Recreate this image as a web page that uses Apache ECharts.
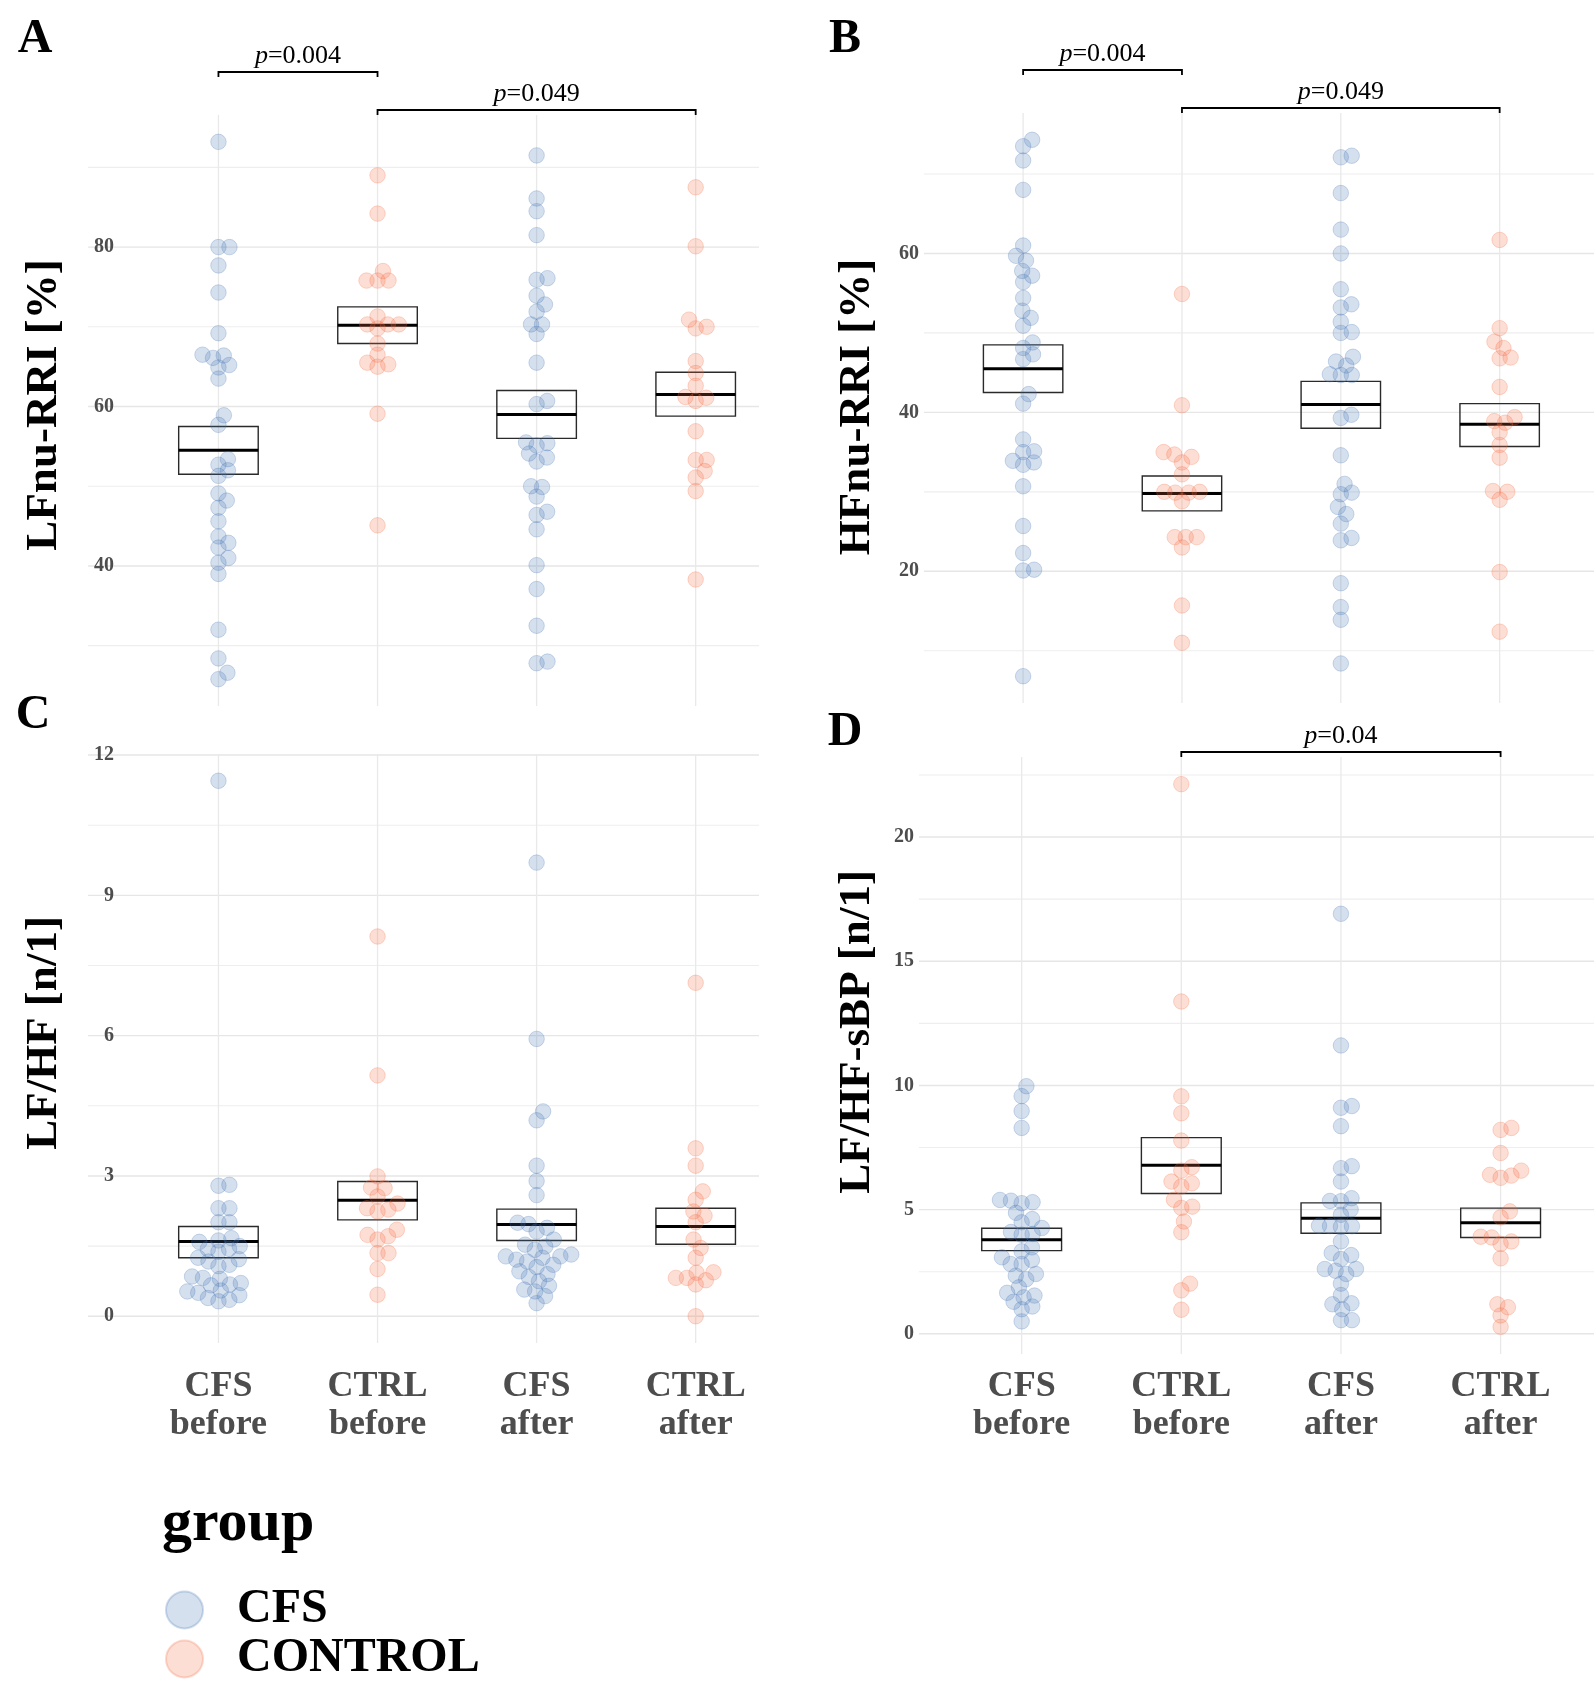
<!DOCTYPE html>
<html>
<head>
<meta charset="utf-8">
<script src="https://cdn.jsdelivr.net/npm/echarts@6/dist/echarts.min.js"></script>
<style>
html,body{margin:0;padding:0;background:#ffffff;}
#chart{width:1594px;height:1697px;}
</style>
</head>
<body>
<div id="chart"></div>
<script>
// ---------------- DATA ----------------
const categories = ['CFS\nbefore', 'CTRL\nbefore', 'CFS\nafter', 'CTRL\nafter'];
const categoryGroup = ['CFS', 'CONTROL', 'CFS', 'CONTROL'];
const groupNames = ['CFS', 'CONTROL'];
const panelLetters = ['A', 'B', 'C', 'D'];
const yTitles = ['LFnu-RRI [%]', 'HFnu-RRI [%]', 'LF/HF [n/1]', 'LF/HF-sBP [n/1]'];

// Panel A : LFnu-RRI [%]
const lfnuCfsBefore = [93.2, 80.0, 80.0, 77.7, 74.3, 69.2, 66.5, 66.4, 66.1, 65.2, 64.9, 63.5, 58.9, 57.7, 53.4, 52.7, 52.0, 51.3, 49.1, 48.2, 47.3, 45.6, 43.7, 42.9, 42.3, 41.0, 40.4, 39.0, 32.0, 28.4, 26.6, 25.8];
const lfnuCtrlBefore = [89.0, 84.2, 77.0, 75.8, 75.8, 75.8, 71.3, 70.3, 70.3, 70.3, 69.8, 67.9, 66.5, 65.5, 65.3, 65.0, 59.1, 45.1];
const lfnuCfsAfter = [91.5, 86.1, 84.5, 81.5, 76.1, 75.9, 73.9, 72.8, 71.9, 70.3, 70.3, 69.1, 65.5, 60.7, 60.3, 55.5, 55.4, 55.1, 54.1, 53.6, 53.1, 50.0, 49.9, 48.7, 46.8, 46.4, 44.6, 40.1, 37.1, 32.5, 28.0, 27.8];
const lfnuCtrlAfter = [87.5, 80.1, 70.9, 70.0, 69.8, 65.7, 64.2, 62.6, 61.2, 61.1, 60.7, 56.9, 53.3, 53.3, 51.9, 51.1, 49.4, 38.3];
const lfnuBox = [[51.5, 54.5, 57.5], [67.9, 70.2, 72.5], [56.0, 59.0, 62.0], [58.8, 61.5, 64.3]]; // lower, middle, upper
const lfnuTicks = [40, 60, 80];
const lfnuBrackets = [[2, 4, '0.049'], [1, 2, '0.004']];

// Panel B : HFnu-RRI [%]
const hfnuCfsBefore = [74.3, 73.5, 71.7, 68.0, 61.0, 59.7, 59.1, 57.8, 57.2, 56.4, 54.4, 52.8, 51.9, 50.9, 48.8, 48.1, 47.3, 46.7, 42.3, 41.1, 36.6, 35.1, 35.0, 33.9, 33.7, 33.4, 30.7, 25.7, 22.3, 20.2, 20.1, 6.8];
const hfnuCtrlBefore = [54.9, 40.9, 35.0, 34.7, 34.4, 33.7, 32.2, 30.0, 30.0, 29.9, 29.9, 28.8, 24.3, 24.3, 24.3, 23.0, 15.7, 11.0];
const hfnuCfsAfter = [72.3, 72.1, 67.6, 63.0, 60.0, 55.5, 53.6, 53.2, 51.4, 50.1, 50.0, 47.0, 46.4, 45.9, 44.8, 44.7, 44.7, 39.7, 39.3, 34.6, 31.0, 29.9, 29.7, 28.1, 27.2, 26.0, 24.2, 23.9, 18.5, 15.5, 13.9, 8.4];
const hfnuCtrlAfter = [61.7, 50.6, 48.9, 48.1, 46.9, 46.8, 43.2, 39.4, 38.9, 38.7, 37.5, 35.9, 34.3, 30.1, 30.0, 29.0, 19.9, 12.4];
const hfnuBox = [[42.5, 45.5, 48.5], [27.6, 29.8, 32.0], [38.0, 41.0, 43.9], [35.7, 38.5, 41.1]];
const hfnuTicks = [20, 40, 60];
const hfnuBrackets = [[2, 4, '0.049'], [1, 2, '0.004']];

// Panel C : LF/HF [n/1]
const lfhfCfsBefore = [11.45, 2.81, 2.79, 2.31, 2.31, 2.01, 2.01, 1.67, 1.62, 1.59, 1.50, 1.44, 1.44, 1.38, 1.25, 1.22, 1.17, 1.10, 1.07, 0.85, 0.82, 0.80, 0.71, 0.68, 0.66, 0.55, 0.53, 0.50, 0.45, 0.39, 0.35, 0.32];
const lfhfCtrlBefore = [8.12, 5.15, 2.99, 2.75, 2.74, 2.56, 2.41, 2.31, 2.28, 2.24, 1.85, 1.74, 1.71, 1.64, 1.35, 1.35, 1.01, 0.46];
const lfhfCfsAfter = [9.70, 5.93, 4.38, 4.19, 3.22, 2.89, 2.59, 2.00, 1.97, 1.89, 1.81, 1.64, 1.53, 1.49, 1.42, 1.32, 1.28, 1.28, 1.25, 1.21, 1.17, 1.10, 1.05, 0.96, 0.90, 0.84, 0.75, 0.65, 0.57, 0.53, 0.43, 0.28];
const lfhfCtrlAfter = [7.13, 3.59, 3.22, 2.67, 2.49, 2.24, 2.15, 2.01, 1.64, 1.46, 1.25, 0.94, 0.93, 0.82, 0.82, 0.77, 0.68, 0.00];
const lfhfBox = [[1.25, 1.60, 1.92], [2.06, 2.48, 2.88], [1.62, 1.96, 2.29], [1.54, 1.92, 2.31]];
const lfhfTicks = [0, 3, 6, 9, 12];
const lfhfBrackets = [];

// Panel D : LF/HF-sBP [n/1]
const sbpCfsBefore = [9.97, 9.57, 8.97, 8.29, 5.39, 5.36, 5.30, 5.26, 4.87, 4.62, 4.49, 4.26, 4.10, 4.02, 3.99, 3.48, 3.32, 3.08, 2.97, 2.81, 2.81, 2.41, 2.34, 2.20, 1.87, 1.65, 1.54, 1.47, 1.29, 1.10, 0.99, 0.50];
const sbpCtrlBefore = [22.13, 13.38, 9.56, 8.88, 7.78, 6.71, 6.57, 6.13, 6.06, 5.93, 5.40, 5.12, 5.07, 4.52, 4.09, 2.02, 1.75, 0.97];
const sbpCfsAfter = [16.91, 11.61, 9.17, 9.10, 8.36, 6.75, 6.67, 6.13, 5.46, 5.35, 5.34, 5.00, 4.79, 4.35, 4.34, 4.33, 4.31, 3.72, 3.25, 3.17, 3.01, 2.61, 2.61, 2.54, 2.41, 2.02, 1.56, 1.23, 1.19, 0.99, 0.55, 0.55];
const sbpCtrlAfter = [8.29, 8.21, 7.28, 6.57, 6.40, 6.37, 6.28, 4.93, 4.69, 3.91, 3.88, 3.72, 3.62, 3.04, 1.19, 1.07, 0.74, 0.28];
const sbpBox = [[3.35, 3.79, 4.25], [5.65, 6.79, 7.90], [4.05, 4.65, 5.27], [3.88, 4.47, 5.06]];
const sbpTicks = [0, 5, 10, 15, 20];
const sbpBrackets = [[2, 4, '0.04']];

// ---------------- LAYOUT / STYLE ----------------
const FONT = "'Liberation Serif', 'Times New Roman', 'DejaVu Serif', serif";
const COLORS = {
  CFS: { fill: 'rgba(69,117,180,0.28)', stroke: 'rgba(69,117,180,0.32)' },
  CONTROL: { fill: 'rgba(244,109,67,0.28)', stroke: 'rgba(244,109,67,0.32)' }
};
const layout = [
  { left: 88,  top: 115, width: 671, height: 591, xmin: 0.18,  xmax: 4.398, yOffset: -31, labelX: 35,  labelY: 40,  titleX: 44,  titleY: 405,  showX: false, xMargin: 25 },
  { left: 924, top: 113, width: 670, height: 590, xmin: 0.376, xmax: 4.594, yOffset: 0,   labelX: 845, labelY: 40,  titleX: 857, titleY: 407,  showX: false, xMargin: 25 },
  { left: 88,  top: 754, width: 671, height: 589, xmin: 0.18,  xmax: 4.398, yOffset: -31, labelX: 33,  labelY: 716, titleX: 44,  titleY: 1033, showX: true,  xMargin: 25 },
  { left: 919, top: 757, width: 675, height: 597, xmin: 0.357, xmax: 4.585, yOffset: 0,   labelX: 845, labelY: 733, titleX: 857, titleY: 1032, showX: true,  xMargin: 14 }
];

const panels = [
  { values: [lfnuCfsBefore, lfnuCtrlBefore, lfnuCfsAfter, lfnuCtrlAfter], box: lfnuBox, ticks: lfnuTicks, brackets: lfnuBrackets },
  { values: [hfnuCfsBefore, hfnuCtrlBefore, hfnuCfsAfter, hfnuCtrlAfter], box: hfnuBox, ticks: hfnuTicks, brackets: hfnuBrackets },
  { values: [lfhfCfsBefore, lfhfCtrlBefore, lfhfCfsAfter, lfhfCtrlAfter], box: lfhfBox, ticks: lfhfTicks, brackets: lfhfBrackets },
  { values: [sbpCfsBefore, sbpCtrlBefore, sbpCfsAfter, sbpCtrlAfter], box: sbpBox, ticks: sbpTicks, brackets: sbpBrackets }
];

// beeswarm layout (pixel space), points sorted ascending, nearest free offset to centre
function swarmOffsets(vals, pxPerY, dist) {
  const idx = vals.map((v, i) => i).sort((a, b) => vals[a] - vals[b]);
  const placed = [];
  const out = new Array(vals.length).fill(0);
  for (const i of idx) {
    const y = vals[i] * pxPerY;
    const cands = [0];
    for (const p of placed) {
      const dy = Math.abs(y - p.y);
      if (dy < dist) {
        const dx = Math.sqrt(dist * dist - dy * dy);
        cands.push(p.x + dx, p.x - dx);
      }
    }
    cands.sort((a, b) => (Math.abs(a) - Math.abs(b)) || (b - a));
    let best = 0;
    for (const c of cands) {
      if (placed.every(p => (c - p.x) * (c - p.x) + (y - p.y) * (y - p.y) >= dist * dist - 1e-6)) { best = c; break; }
    }
    placed.push({ x: best, y: y });
    out[i] = best;
  }
  return out;
}

function gridRender(params, api) {
  const cs = params.coordSys;
  const v = api.value(0), kind = api.value(1);
  if (kind === 2) {
    const x = api.coord([v, 0])[0];
    return { type: 'line', silent: true, shape: { x1: x, y1: cs.y, x2: x, y2: cs.y + cs.height }, style: { stroke: '#e9e9e9', lineWidth: 1.3 } };
  }
  const y = api.coord([1, v])[1];
  return { type: 'line', silent: true, shape: { x1: cs.x, y1: y, x2: cs.x + cs.width, y2: y },
    style: { stroke: kind === 0 ? '#e6e6e6' : '#eeeeee', lineWidth: kind === 0 ? 1.4 : 1.1 } };
}

function boxRender(params, api) {
  const c = api.value(0), lo = api.value(1), mid = api.value(2), hi = api.value(3);
  const tl = api.coord([c - 0.25, hi]), br = api.coord([c + 0.25, lo]);
  const ml = api.coord([c - 0.25, mid]), mr = api.coord([c + 0.25, mid]);
  return { type: 'group', children: [
    { type: 'rect', shape: { x: tl[0], y: tl[1], width: br[0] - tl[0], height: br[1] - tl[1] }, style: { fill: null, stroke: '#2a2a2a', lineWidth: 1.4 } },
    { type: 'line', shape: { x1: ml[0], y1: ml[1], x2: mr[0], y2: mr[1] }, style: { stroke: '#000', lineWidth: 3 } }
  ] };
}

function makeBracketRender(brs) {
  return function (params, api) {
    const b = brs[params.dataIndex];
    const cs = params.coordSys;
    const x1 = api.coord([b[0], 0])[0], x2 = api.coord([b[1], 0])[0];
    const y = cs.y - 5 - params.dataIndex * 38;
    return { type: 'group', children: [
      { type: 'polyline', shape: { points: [[x1, y + 5], [x1, y], [x2, y], [x2, y + 5]] }, style: { fill: null, stroke: '#000', lineWidth: 1.8 } },
      { type: 'text', x: (x1 + x2) / 2, y: y - 16, style: {
        text: '{i|p}=' + b[2], align: 'center', verticalAlign: 'middle', fontFamily: FONT, fontSize: 26, fill: '#000',
        rich: { i: { fontStyle: 'italic', fontFamily: FONT, fontSize: 26, fill: '#000' } } } }
    ] };
  };
}

const grids = [], xAxes = [], yAxes = [], series = [], graphics = [];

panels.forEach((p, pi) => {
  const L = layout[pi];
  const all = [].concat(...p.values);
  const lo = Math.min(...all), hi = Math.max(...all);
  const pad = (hi - lo) * 0.05;
  const ymin = lo - pad, ymax = hi + pad;
  const pxPerY = L.height / (ymax - ymin);
  const pxPerX = L.width / (L.xmax - L.xmin);

  grids.push({ left: L.left, top: L.top, width: L.width, height: L.height, containLabel: false, outerBoundsMode: 'none' });
  xAxes.push({
    gridIndex: pi, type: 'value', min: L.xmin, max: L.xmax,
    splitLine: { show: false }, axisLine: { show: false }, axisTick: { show: false },
    axisLabel: L.showX ? {
      show: true, customValues: [1, 2, 3, 4], formatter: v => categories[Math.round(v) - 1],
      fontFamily: FONT, fontWeight: 'bold', fontSize: 36, lineHeight: 38, color: '#4d4d4d', margin: L.xMargin
    } : { show: false }
  });
  yAxes.push({
    gridIndex: pi, type: 'value', min: ymin, max: ymax, offset: L.yOffset, z: 6,
    splitLine: { show: false }, axisLine: { show: false }, axisTick: { show: false },
    axisLabel: { customValues: p.ticks, margin: 5, fontFamily: FONT, fontWeight: 'bold', fontSize: 20, color: '#4d4d4d', formatter: v => String(v) }
  });

  // gridlines: major at ticks, minor halfway, vertical at categories
  const step = p.ticks[1] - p.ticks[0];
  const gl = [];
  p.ticks.forEach(t => gl.push([t, 0]));
  [p.ticks[0] - step / 2].concat(p.ticks.map(t => t + step / 2)).forEach(m => { if (m > ymin && m < ymax) gl.push([m, 1]); });
  categories.forEach((c, ci) => gl.push([ci + 1, 2]));
  series.push({ type: 'custom', xAxisIndex: pi, yAxisIndex: pi, z: 1, silent: true, clip: false, renderItem: gridRender, data: gl });

  // crossbars
  series.push({
    type: 'custom', xAxisIndex: pi, yAxisIndex: pi, z: 2, silent: true, clip: false,
    encode: { x: 0, y: [1, 2, 3] }, renderItem: boxRender,
    data: p.box.map((b, ci) => [ci + 1, b[0], b[1], b[2]])
  });

  // points
  groupNames.forEach(g => {
    const data = [];
    p.values.forEach((vals, ci) => {
      if (categoryGroup[ci] !== g) return;
      const offs = swarmOffsets(vals, pxPerY, 11);
      vals.forEach((v, k) => data.push([ci + 1 + offs[k] / pxPerX, v]));
    });
    series.push({
      name: g, type: 'scatter', xAxisIndex: pi, yAxisIndex: pi, z: 3, silent: true,
      symbol: 'circle', symbolSize: 15.5,
      itemStyle: { color: COLORS[g].fill, borderColor: COLORS[g].stroke, borderWidth: 1 },
      emphasis: { disabled: true }, data: data
    });
  });

  // significance brackets
  if (p.brackets.length) {
    series.push({
      type: 'custom', xAxisIndex: pi, yAxisIndex: pi, z: 4, silent: true, clip: false,
      renderItem: makeBracketRender(p.brackets),
      data: p.brackets.map(b => [b[0], b[1]])
    });
  }

  graphics.push({ type: 'text', x: L.labelX, y: L.labelY, style: { text: panelLetters[pi], fontFamily: FONT, fontWeight: 'bold', fontSize: 48, fill: '#000', align: 'center', verticalAlign: 'middle' } });
  graphics.push({ type: 'text', x: L.titleX, y: L.titleY, rotation: Math.PI / 2, style: { text: yTitles[pi], fontFamily: FONT, fontWeight: 'bold', fontSize: 45, fill: '#000', align: 'center', verticalAlign: 'middle' } });
});

graphics.push({ type: 'text', x: 162, y: 1524, style: { text: 'group', fontFamily: FONT, fontWeight: 'bold', fontSize: 60, fill: '#000', align: 'left', verticalAlign: 'middle' } });

const chart = echarts.init(document.getElementById('chart'), null, { renderer: 'canvas', width: 1594, height: 1697 });
chart.setOption({
  backgroundColor: '#ffffff',
  animation: false,
  grid: grids,
  xAxis: xAxes,
  yAxis: yAxes,
  legend: {
    data: groupNames, orient: 'vertical', left: 160, top: 1581, itemWidth: 37, itemHeight: 37, itemGap: 1,
    icon: 'circle', selectedMode: false,
    textStyle: { fontFamily: FONT, fontWeight: 'bold', fontSize: 48, lineHeight: 48, color: '#000', padding: [0, 0, 0, 29] }
  },
  graphic: graphics,
  series: series
});
</script>
</body>
</html>
